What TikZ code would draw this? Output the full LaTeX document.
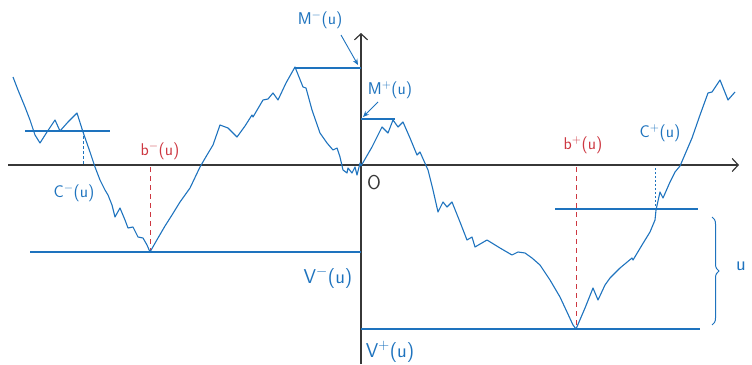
\documentclass[tikz,border=0pt]{standalone}
\usetikzlibrary{arrows.meta,decorations.pathreplacing}
\definecolor{pathblue}{RGB}{30,115,190}
\definecolor{axisgray}{RGB}{55,55,55}
\definecolor{markred}{RGB}{205,55,65}
\begin{document}
\begin{tikzpicture}[x=1pt,y=-1pt,
  axis/.style={draw=axisgray,line width=1.2pt},
  walk/.style={draw=pathblue,line width=1.1pt,line join=round},
  level/.style={draw=pathblue,line width=1.1pt},
  redmark/.style={draw=markred,line width=0.9pt,dash pattern=on 5pt off 4pt},
  bluemark/.style={draw=pathblue,line width=0.9pt,dash pattern=on 3pt off 2pt},
  lbl/.style={text=pathblue,font=\sffamily\fontsize{17}{19}\selectfont,inner sep=1pt},
  biglbl/.style={lbl,font=\sffamily\fontsize{20}{22}\selectfont},
  rlbl/.style={lbl,text=markred},
  ptr/.style={draw=pathblue,line width=0.9pt,-{Stealth[length=6pt,width=5pt]}}]
\useasboundingbox (0,0) rectangle (752,364);
% axes
\coordinate (xL) at (8,165); \coordinate (xR) at (739,165);
\coordinate (yB) at (361,364); \coordinate (yT) at (361,33);
\draw[axis,-{Straight Barb[length=6pt,width=13pt]}] (xL) -- (xR);
\draw[axis,-{Straight Barb[length=6pt,width=13pt]}] (yB) -- (yT);
% levels
\coordinate (mmL) at (294,68); \coordinate (mmR) at (361,68);
\coordinate (mpL) at (361,119); \coordinate (mpR) at (395,119);
\coordinate (cmL) at (25,131); \coordinate (cmR) at (110,131);
\coordinate (cmA) at (83,131); \coordinate (cmB) at (83,165);
\coordinate (vmL) at (30,252); \coordinate (vmR) at (361,252);
\coordinate (vpL) at (361,329); \coordinate (vpR) at (700,329);
\coordinate (cpL) at (555,209); \coordinate (cpR) at (698,209);
\coordinate (cpA) at (655,168); \coordinate (cpB) at (655,209);
\coordinate (bmA) at (150,167); \coordinate (bmB) at (150,252);
\coordinate (bpA) at (576,167); \coordinate (bpB) at (576,329);
\draw[level] (mmL) -- (mmR);
\draw[level] (mpL) -- (mpR);
\draw[level] (cmL) -- (cmR);
\draw[level] (vmL) -- (vmR);
\draw[level] (vpL) -- (vpR);
\draw[level] (cpL) -- (cpR);
\draw[bluemark] (cmA) -- (cmB);
\draw[bluemark,dash pattern=on 2pt off 2pt] (cpA) -- (cpB);
\draw[redmark] (bmA) -- (bmB);
\draw[redmark] (bpA) -- (bpB);
% path
\draw[walk] (13,77) -- (18,90) -- (25,107) -- (30,120) -- (35,135) -- (40,143) -- (47,132) -- (55,120) -- (60,131) -- (68,122) -- (77,113) -- (83,132) -- (90,152) -- (95,167) -- (100,180) -- (105,190) -- (108,195) -- (112,205) -- (115,217) -- (120,208) -- (125,220) -- (128,228) -- (133,227) -- (138,237) -- (143,238) -- (147,245) -- (150,252) -- (158,238) -- (165,226) -- (172,215) -- (180,202) -- (190,188) -- (200,167) -- (207,155) -- (213,145) -- (220,125) -- (228,128) -- (237,137) -- (245,126) -- (252,115) -- (253,117) -- (263,100) -- (268,99) -- (273,93) -- (278,100) -- (286,83) -- (295,67) -- (303,87) -- (306,88) -- (312,110) -- (320,133) -- (327,143) -- (333,150) -- (337,148) -- (340,157) -- (343,170) -- (347,173) -- (348,168) -- (352,173) -- (355,167) -- (357,175) -- (360,163) -- (361,166) -- (372,147) -- (382,127) -- (388,133) -- (393,120) -- (398,127) -- (403,122) -- (410,138) -- (417,155) -- (420,152) -- (428,170) -- (433,190) -- (438,212) -- (443,202) -- (447,207) -- (452,202) -- (460,222) -- (467,240) -- (472,237) -- (475,247) -- (487,240) -- (500,248) -- (512,255) -- (518,252) -- (525,253) -- (532,258) -- (540,265) -- (550,280) -- (560,297) -- (567,312) -- (573,325) -- (576,329) -- (585,308) -- (593,288) -- (598,300) -- (605,285) -- (610,278) -- (620,268) -- (632,258) -- (633,260) -- (642,245) -- (650,232) -- (655,220) -- (656,210) -- (660,192) -- (663,198) -- (670,182) -- (675,172) -- (680,166) -- (692,138) -- (700,115) -- (708,93) -- (712,92) -- (720,80) -- (728,100) -- (735,92);
% labels
\node[lbl] (Mm) at (320,20) {M$^{-}$(u)};
\node[lbl] (Mp) at (390,90) {M$^{+}$(u)};
\node[lbl] (Cm) at (74,193) {C$^{-}$(u)};
\node[rlbl] (bm) at (160,151) {b$^{-}$(u)};
\node[biglbl] (Vm) at (328,278) {V$^{-}$(u)};
\node[biglbl] (Vp) at (390,352) {V$^{+}$(u)};
\node[rlbl] (bp) at (583,145) {b$^{+}$(u)};
\node[lbl] (Cp) at (660,133) {C$^{+}$(u)};
\node[text=axisgray,font=\sffamily\fontsize{20}{22}\selectfont] (O) at (374,183) {O};
\node[biglbl,anchor=west] (u) at (735,266) {u};
% pointers
\coordinate (mmTail) at (341,35); \coordinate (mmTip) at (358,65);
\coordinate (mpTail) at (378,102); \coordinate (mpTip) at (363,117);
\draw[ptr] (mmTail) -- (mmTip);
\draw[ptr] (mpTail) -- (mpTip);
% brace
\coordinate (brT) at (712,217); \coordinate (brB) at (712,325);
\draw[draw=pathblue,line width=1pt,decorate,decoration={brace,amplitude=7pt}] (brT) -- (brB);
\end{tikzpicture}
\end{document}
